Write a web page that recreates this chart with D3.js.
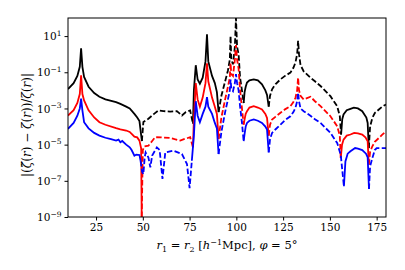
<!DOCTYPE html>
<html>
<head>
<meta charset="utf-8">
<script src="https://cdn.jsdelivr.net/npm/d3@7"></script>
<style>
body { margin: 0; background: #fff; }
</style>
</head>
<body>
<svg id="chart" width="405" height="270" font-family="'DejaVu Serif', serif"></svg>
<script>
// each point: [r, log10 |relative error|, sign]  (sign +1 drawn solid, -1 dashed)
const black = [
    [10,-1.93,1],[13,-1.6,1],[15,-1.2,1],[16.3,-0.7,1],[17,0.32,1],[17.7,-0.7,1],[18.6,-1.26,1],
    [21,-1.8,1],[24,-2.15,1],[26.8,-2.35,1],[30,-2.5,1],[35.7,-2.65,1],[38,-2.75,1],[41.1,-2.9,1],
    [43,-3.0,1],[45.5,-3.3,1],[47,-3.5,1],[48.2,-3.7,1],[49.5,-4.8,1],
    [50.3,-3.75,-1],[53,-3.57,-1],[56,-3.3,-1],[58.4,-3.11,-1],[61,-3.15,-1],[64.6,-3.17,-1],
    [68.2,-3.15,-1],[70.9,-3.39,-1],[73,-3.2,-1],[75.3,-3.11,-1],[76.8,-3.85,-1],
    [77.3,-2.0,1],[78.3,-0.61,1],[79.3,-1.4,1],[80.5,-1.63,1],[82,-1.3,1],[83.5,-0.4,1],[84.3,1.1,1],
    [85,-0.4,1],[87,-1.2,1],[88.5,-1.6,1],[89.6,-2.1,1],[90.5,-3.2,1],
    [92,-2.3,-1],[94,-1.5,-1],[95.5,-0.9,-1],[96.5,-0.3,-1],[96.9,1.0,-1],[97.3,-0.3,-1],[98.2,-0.56,-1],
    [99.2,0.4,-1],[99.8,2.3,-1],[100.4,0.4,-1],[101.2,0.0,-1],[102,-1.3,-1],[103,-2.0,-1],[103.9,-2.7,-1],
    [104.4,-2.1,1],[105,-1.8,1],[105.7,-1.57,1],[107,-1.45,1],[109.3,-1.39,1],[111.5,-1.45,1],
    [113.7,-1.67,1],[115.5,-2.0,1],[116.4,-2.25,1],[117.3,-2.9,1],
    [118,-2.3,-1],[119.1,-1.94,-1],[121,-1.65,-1],[123.6,-1.39,-1],[126,-1.2,-1],[128.9,-1.02,-1],
    [130.5,-0.75,-1],[131.6,-0.46,-1],[132.5,0.0,-1],[133,0.74,-1],[133.5,0.0,-1],[134.3,-0.6,-1],
    [136,-0.95,-1],[139.6,-1.3,-1],[142,-1.5,-1],[145,-1.76,-1],[150.3,-2.32,-1],[153.9,-2.87,-1],
    [155.3,-3.43,-1],[156,-4.44,-1],
    [156.6,-3.6,1],[157.3,-3.33,1],[159,-3.1,1],[161,-3.02,1],[162.8,-2.96,1],[165,-3.0,1],
    [167.3,-3.15,1],[169.5,-3.5,1],[170.2,-3.8,1],[170.8,-5.19,1],
    [171.5,-4.0,-1],[172.7,-3.52,-1],[174,-3.25,-1],[176.2,-3.06,-1],[178,-2.9,-1],[180,-2.78,-1]
]
const red = [
    [10,-3.39,1],[13,-3.1,1],[15,-2.7,1],[16.3,-2.2,1],[17,-1.17,1],[17.7,-2.2,1],[18.6,-2.56,1],
    [21,-3.1,1],[24,-3.5,1],[26.8,-3.76,1],[30,-3.9,1],[35.7,-4.09,1],[38,-4.15,1],[41.1,-4.22,1],
    [43,-4.3,1],[45.5,-4.56,1],[47,-4.6,1],[48.2,-4.78,1],[49.1,-5.2,1],[49.4,-10,1],
    [50.0,-5.3,-1],[50.8,-5.1,-1],[53,-5.06,-1],[55,-4.8,-1],[56.6,-4.59,-1],[60,-4.6,-1],
    [64.6,-4.63,-1],[67,-4.7,-1],[70,-4.78,-1],[72,-4.7,-1],[75.3,-4.59,-1],[76.8,-5.15,-1],
    [77.3,-3.6,1],[78.3,-1.6,1],[79.3,-2.5,1],[80.5,-2.9,1],[82,-2.4,1],[83.5,-1.6,1],[84.3,-0.5,1],
    [85,-1.5,1],[87,-2.4,1],[88.5,-2.9,1],[89.6,-3.3,1],[90.5,-4.69,1],
    [92,-3.5,-1],[94,-2.5,-1],[95.5,-1.8,-1],[96.5,-1.3,-1],[96.9,-0.5,-1],[97.3,-1.1,-1],[98.2,-1.2,-1],
    [99.2,-0.3,-1],[99.8,0.5,-1],[100.4,-0.3,-1],[101.2,-0.8,-1],[102,-2.0,-1],[103,-3.0,-1],[103.9,-3.89,-1],
    [104.4,-3.6,1],[105,-3.3,1],[105.7,-3.15,1],[107,-2.95,1],[109.3,-2.87,1],[111.5,-2.95,1],
    [113.7,-3.06,1],[115.5,-3.3,1],[116.4,-3.52,1],[117.3,-4.5,1],
    [118,-3.9,-1],[119.1,-3.61,-1],[121,-3.45,-1],[123.6,-3.24,-1],[126,-3.05,-1],[128.9,-2.87,-1],
    [130.5,-2.65,-1],[131.6,-2.41,-1],[132.5,-2.0,-1],[133,-1.3,-1],[133.5,-2.0,-1],[134.3,-2.3,-1],
    [136,-2.5,-1],[139.6,-2.35,-1],[142,-2.6,-1],[145,-2.87,-1],[150.3,-3.43,-1],[153.9,-3.98,-1],
    [155.3,-4.5,-1],[155.8,-5.74,-1],
    [156.5,-5.0,1],[157.3,-4.72,1],[159,-4.5,1],[161,-4.44,1],[163,-4.35,1],[165,-4.38,1],
    [167.3,-4.44,1],[169,-4.6,1],[170.2,-4.81,1],[170.8,-6.11,1],
    [171.5,-5.4,-1],[172.7,-5.09,-1],[174,-4.85,-1],[176.2,-4.63,-1],[178,-4.45,-1],[180,-4.26,-1]
]
const blue = [
    [10,-4.13,1],[13,-3.8,1],[15,-3.4,1],[16.3,-3.0,1],[17,-2.46,1],[17.7,-3.1,1],[18.6,-3.76,1],
    [21,-4.1,1],[24,-4.35,1],[26.8,-4.5,1],[30,-4.62,1],[33,-4.7,1],[35.7,-4.78,1],[37,-4.72,1],
    [38,-4.87,1],[39,-4.8,1],[41.1,-5.0,1],[43,-5.15,1],[44,-5.3,1],[45.5,-5.61,1],[46.5,-5.55,1],
    [48.2,-5.57,1],[48.8,-5.9,1],
    [49.6,-6.5,-1],[50.3,-6.63,-1],[51,-5.7,-1],[51.5,-5.43,-1],[53,-5.71,-1],[54,-6.26,-1],
    [55,-5.6,-1],[57.5,-5.15,-1],[59,-5.3,-1],[60.5,-6.9,-1],[62,-5.43,-1],[64,-5.38,-1],
    [66.4,-5.33,-1],[68,-5.4,-1],[70.9,-5.52,-1],[73.6,-6.07,-1],[75,-7.4,-1],[76.2,-5.89,-1],
    [77.3,-4.5,1],[78.3,-2.6,1],[79.3,-3.4,1],[80.5,-3.76,1],[82,-3.3,1],[83.5,-2.9,1],[84.3,-2.37,1],
    [85,-2.9,1],[87,-3.3,1],[88.5,-3.8,1],[89.6,-4.1,1],[90.5,-5.52,1],
    [92,-4.3,-1],[94,-3.2,-1],[95.5,-2.5,-1],[96.5,-2.0,-1],[96.9,-1.4,-1],[97.3,-1.9,-1],[98.2,-2.04,-1],
    [99.2,-1.6,-1],[99.8,-1.1,-1],[100.4,-1.6,-1],[101.2,-2.0,-1],[102,-2.9,-1],[103,-3.8,-1],[103.9,-4.81,-1],
    [104.4,-4.4,1],[105,-4.0,1],[105.7,-3.8,1],[107,-3.68,1],[109.3,-3.61,1],[111.5,-3.68,1],
    [113.7,-3.8,1],[115.5,-4.0,1],[116.4,-4.17,1],[117.3,-5.43,1],
    [118,-4.7,-1],[119.1,-4.35,-1],[121,-4.15,-1],[123.6,-3.89,-1],[126,-3.65,-1],[128.9,-3.43,-1],
    [130.5,-3.2,-1],[131.6,-2.96,-1],[132.5,-2.6,-1],[133,-2.13,-1],[133.5,-2.6,-1],[134.3,-3.0,-1],
    [136,-3.15,-1],[139.6,-3.4,-1],[142,-3.6,-1],[145,-3.8,-1],[150.3,-4.35,-1],[153.9,-4.91,-1],
    [155.8,-5.56,-1],[157.5,-7.3,-1],
    [158.3,-5.93,1],[159.5,-5.5,1],[161,-5.37,1],[163.5,-5.19,1],[165,-5.22,1],[167.3,-5.3,1],
    [169.3,-5.5,1],[170.2,-5.7,1],[170.9,-7.45,1],
    [171.5,-6.2,-1],[172.7,-5.74,-1],[174,-5.3,-1],[175,-5.19,-1],[178,-5.19,-1],[180,-5.19,-1]
]
const series = [
    {name: "black", color: "#000000", pts: black},
    {name: "red", color: "#ff0000", pts: red},
    {name: "blue", color: "#0000ff", pts: blue}
]
const xTicks = [25, 50, 75, 100, 125, 150, 175]
const yTickExp = [1, -1, -3, -5, -7, -9]

const serif = "'DejaVu Serif', 'Liberation Serif', serif"
const margin = {left: 68, right: 19, top: 18, bottom: 53}
const W = 405, H = 270

const svg = d3.select("#chart")

const x = d3.scaleLinear().domain([10, 180]).range([margin.left, W - margin.right])
const y = d3.scaleLog().domain([1e-9, 1e2]).range([H - margin.bottom, margin.top]).clamp(true)

// split a series into runs of equal sign, each run starting at the last point of the previous one
function runs(pts) {
    let out = []
    let cur = null
    pts.forEach((p) => {
        if (!cur || cur.s !== p[2]) {
            let prev = cur ? cur.pts[cur.pts.length - 1] : null
            cur = {s: p[2], pts: prev ? [prev] : []}
            out.push(cur)
        }
        cur.pts.push(p)
    })
    return out
}

svg.append("clipPath").attr("id", "plotclip")
    .append("rect")
    .attr("x", margin.left).attr("y", margin.top)
    .attr("width", W - margin.left - margin.right)
    .attr("height", H - margin.top - margin.bottom)

const line = d3.line()
    .x((d) => { return x(d[0]) })
    .y((d) => { return y(Math.pow(10, d[1])) })

const plot = svg.append("g").attr("clip-path", "url(#plotclip)")

series.forEach((s) => {
    plot.selectAll(".run_" + s.name)
        .data(runs(s.pts))
        .enter()
        .append("path")
        .attr("class", "run_" + s.name)
        .attr("d", (d) => { return line(d.pts) })
        .attr("fill", "none")
        .attr("stroke", s.color)
        .attr("stroke-width", 1.8)
        .attr("stroke-linejoin", "miter")
        .attr("stroke-dasharray", (d) => { return d.s < 0 ? "5.5,2.4" : null })
})

// axes
const xAxis = svg.append("g")
    .attr("transform", "translate(0," + (H - margin.bottom) + ")")
    .call(d3.axisBottom(x).tickValues(xTicks).tickSize(3.5).tickPadding(3))
xAxis.attr("font-family", serif).attr("font-size", 10.5)
xAxis.select(".domain").remove()
xAxis.selectAll("text").attr("fill", "#000")

const yAxis = svg.append("g")
    .attr("transform", "translate(" + margin.left + ",0)")
    .call(d3.axisLeft(y).tickValues(yTickExp.map((e) => { return Math.pow(10, e) })).tickSize(3.5).tickPadding(3).tickFormat(""))
yAxis.attr("font-family", serif).attr("font-size", 10.5)
yAxis.select(".domain").remove()
yAxis.selectAll(".tick").each(function(d) {
    let e = Math.round(Math.log10(d))
    let t = d3.select(this).select("text")
        .attr("fill", "#000")
        .attr("dy", "0.35em")
    t.append("tspan").text("10")
    t.append("tspan").attr("font-size", 7.5).attr("dy", "-0.6em").text(e < 0 ? "\u2212" + (-e) : e)
})

// frame
svg.append("rect")
    .attr("x", margin.left).attr("y", margin.top)
    .attr("width", W - margin.left - margin.right)
    .attr("height", H - margin.top - margin.bottom)
    .attr("fill", "none").attr("stroke", "#000").attr("stroke-width", 1)

// x label
const xl = svg.append("text")
    .attr("x", (margin.left + W - margin.right) / 2)
    .attr("y", 249)
    .attr("text-anchor", "middle")
    .attr("font-family", serif)
    .attr("font-size", 11.5)
xl.append("tspan").attr("font-style", "italic").text("r")
xl.append("tspan").attr("font-size", 8).attr("dy", 2.5).text("1")
xl.append("tspan").attr("dy", -2.5).text(" = ")
xl.append("tspan").attr("font-style", "italic").text("r")
xl.append("tspan").attr("font-size", 8).attr("dy", 2.5).text("2")
xl.append("tspan").attr("dy", -2.5).text(" [")
xl.append("tspan").attr("font-style", "italic").text("h")
xl.append("tspan").attr("font-size", 8).attr("dy", -4.5).text("\u22121")
xl.append("tspan").attr("dy", 4.5).text("Mpc], ")
xl.append("tspan").attr("font-style", "italic").text("\u03c6")
xl.append("tspan").text(" = 5\u00b0")

// y label
const yl = svg.append("text")
    .attr("transform", "translate(31," + 125 + ") rotate(-90)")
    .attr("text-anchor", "middle")
    .attr("font-family", serif)
    .attr("font-size", 12)
yl.append("tspan").text("|(")
yl.append("tspan").attr("font-style", "italic").text("\u03b6\u0303")
yl.append("tspan").text("(")
yl.append("tspan").attr("font-style", "italic").text("r")
yl.append("tspan").text(") \u2212 ")
yl.append("tspan").attr("font-style", "italic").text("\u03b6")
yl.append("tspan").text("(")
yl.append("tspan").attr("font-style", "italic").text("r")
yl.append("tspan").text("))/")
yl.append("tspan").attr("font-style", "italic").text("\u03b6")
yl.append("tspan").text("(")
yl.append("tspan").attr("font-style", "italic").text("r")
yl.append("tspan").text(")|")
</script>
</body>
</html>
